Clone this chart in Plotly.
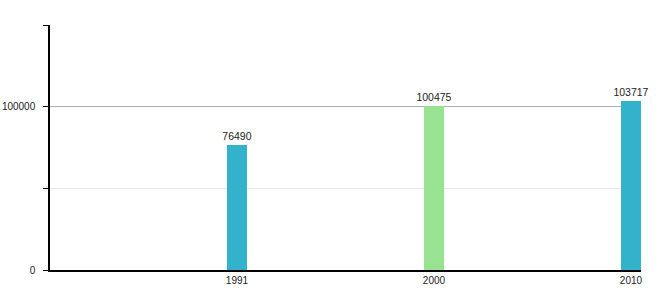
import plotly.graph_objects as go

years = ["1991", "2000", "2010"]
values = [76490, 100475, 103717]
colors = ["#33b3cb", "#98e391", "#33b3cb"]
y_major = [0, 100000]
y_major_text = ["0", "100000"]
y_minor_step = 50000

idx = list(range(len(years)))

fig = go.Figure(go.Bar(
    x=idx, y=values, marker_color=colors, width=0.1,
    text=[str(v) for v in values], textposition="outside", constraintext="none",
    textfont=dict(size=10.5, color="#222"), cliponaxis=False,
))
fig.update_layout(
    template="none",
    width=660, height=300, margin=dict(l=50, r=19, t=25, b=30),
    plot_bgcolor="white", paper_bgcolor="white", showlegend=False,
    font=dict(family="Liberation Sans, Arial", size=10, color="#222"),
    bargap=0,
)
fig.update_xaxes(range=[-0.949, 2.051], tickvals=idx, ticktext=years, showgrid=False,
                 showline=True, linecolor="black", linewidth=1.5, ticks="", zeroline=False,
                 automargin=False, tickfont=dict(color="#222", size=10))
fig.update_yaxes(range=[0, 150000], tickvals=y_major, ticktext=y_major_text, showgrid=True,
                 gridcolor="#b0b0b0", showline=True, linecolor="black", linewidth=1.5,
                 ticks="outside", ticklen=5, tickcolor="black", zeroline=False,
                 automargin=False, ticklabelstandoff=6, tickfont=dict(color="#222", size=10),
                 minor=dict(dtick=y_minor_step, showgrid=True, gridcolor="#e8e8e8",
                            ticks="outside", ticklen=5, tickcolor="black"))
fig.write_html("out.html")
